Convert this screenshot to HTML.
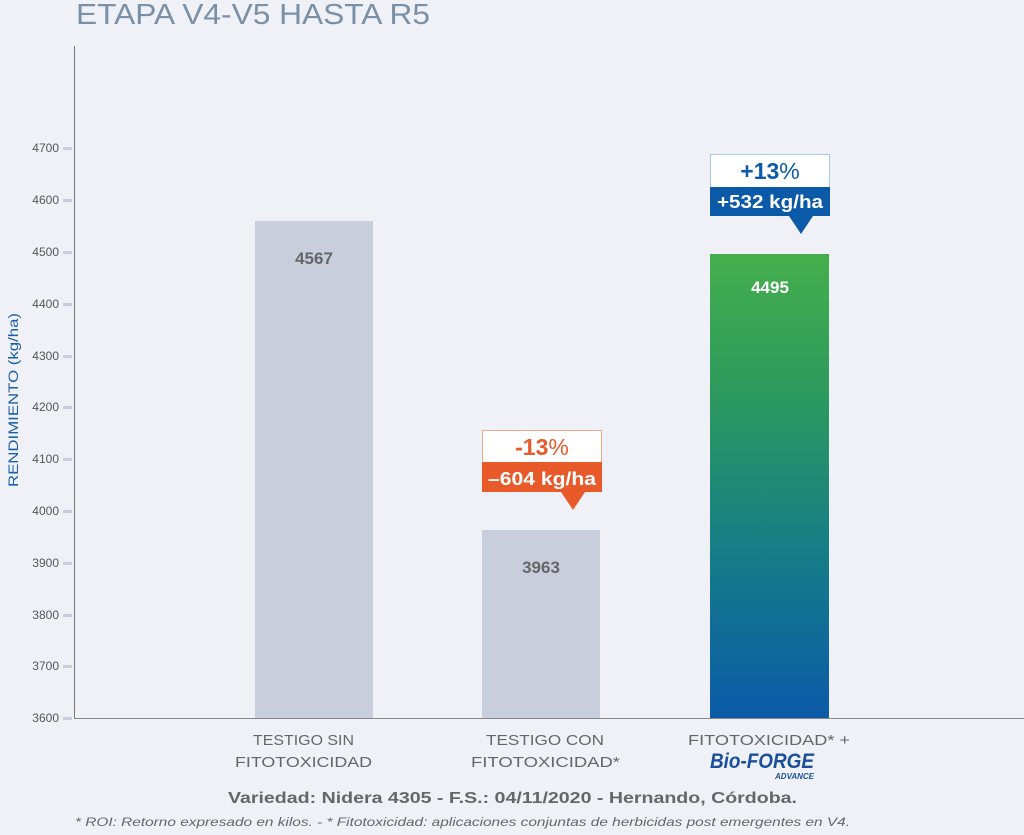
<!DOCTYPE html>
<html><head><meta charset="utf-8"><style>
body{margin:0;background:#f0f1f6;}
svg{display:block;font-family:"Liberation Sans",sans-serif;}
</style></head><body>
<svg width="1024" height="835" viewBox="0 0 1024 835" xmlns="http://www.w3.org/2000/svg">
<defs>
<linearGradient id="g" x1="0" y1="0" x2="0" y2="1">
<stop offset="0" stop-color="#45ae4c"/><stop offset="0.3" stop-color="#2d9a5e"/><stop offset="0.65" stop-color="#167c88"/><stop offset="1" stop-color="#0b5aa8"/>
</linearGradient>
</defs>
<rect width="1024" height="835" fill="#f0f1f6"/>
<text x="76" y="24" font-size="29" fill="#7890a8" textLength="354" lengthAdjust="spacingAndGlyphs">ETAPA V4-V5 HASTA R5</text>
<line x1="74.5" y1="46" x2="74.5" y2="719" stroke="#777" stroke-width="1"/>
<line x1="74" y1="718.5" x2="1024" y2="718.5" stroke="#888" stroke-width="1"/>
<g font-size="12" fill="#555" text-anchor="end">
<text x="59" y="152">4700</text><text x="59" y="204">4600</text><text x="59" y="256">4500</text>
<text x="59" y="308">4400</text><text x="59" y="360">4300</text><text x="59" y="411">4200</text>
<text x="59" y="463">4100</text><text x="59" y="515">4000</text><text x="59" y="567">3900</text>
<text x="59" y="619">3800</text><text x="59" y="670">3700</text><text x="59" y="722">3600</text>
</g>
<g fill="#c8cddd">
<rect x="63" y="147" width="9" height="3"/><rect x="63" y="199" width="9" height="3"/><rect x="63" y="251" width="9" height="3"/>
<rect x="63" y="303" width="9" height="3"/><rect x="63" y="355" width="9" height="3"/><rect x="63" y="406" width="9" height="3"/>
<rect x="63" y="458" width="9" height="3"/><rect x="63" y="510" width="9" height="3"/><rect x="63" y="562" width="9" height="3"/>
<rect x="63" y="614" width="9" height="3"/><rect x="63" y="665" width="9" height="3"/><rect x="63" y="717" width="9" height="3"/>
</g>
<text transform="translate(18,400) rotate(-90)" font-size="14" fill="#1a5fa8" text-anchor="middle" textLength="174" lengthAdjust="spacingAndGlyphs">RENDIMIENTO (kg/ha)</text>
<rect x="255" y="221" width="118" height="497" fill="#c9cedd"/>
<text x="314" y="264" font-size="17" font-weight="bold" fill="#666" text-anchor="middle">4567</text>
<rect x="482" y="530" width="118" height="188" fill="#c9cedd"/>
<text x="541" y="573" font-size="17" font-weight="bold" fill="#666" text-anchor="middle">3963</text>
<rect x="710" y="254" width="119" height="464" fill="url(#g)"/>
<text x="770" y="293" font-size="17" font-weight="bold" fill="#fff" text-anchor="middle">4495</text>
<rect x="710.5" y="154.5" width="119" height="33" fill="#fff" stroke="#a9c8e6"/>
<rect x="710" y="187" width="120" height="29" fill="#0b5aa8"/>
<polygon points="789,216 813,216 801,234" fill="#0b5aa8"/>
<text x="770" y="179" font-size="23" fill="#0b5aa8" text-anchor="middle"><tspan font-weight="bold">+13</tspan>%</text>
<text x="770" y="208" font-size="18" fill="#fff" text-anchor="middle" font-weight="bold" textLength="106" lengthAdjust="spacingAndGlyphs">+532 kg/ha</text>
<rect x="482.5" y="430.5" width="119" height="32" fill="#fff" stroke="#f0a88e"/>
<rect x="482" y="462" width="120" height="30" fill="#e85a2a"/>
<polygon points="561,492 585,492 573,510" fill="#e85a2a"/>
<text x="542" y="455" font-size="23" fill="#e85a2a" text-anchor="middle"><tspan font-weight="bold">-13</tspan>%</text>
<text x="542" y="485" font-size="18" fill="#fff" text-anchor="middle" font-weight="bold" textLength="108" lengthAdjust="spacingAndGlyphs">–604 kg/ha</text>
<g font-size="15" fill="#666">
<text x="253" y="745" textLength="101" lengthAdjust="spacingAndGlyphs">TESTIGO SIN</text>
<text x="235" y="767" textLength="137" lengthAdjust="spacingAndGlyphs">FITOTOXICIDAD</text>
<text x="486" y="745" textLength="118" lengthAdjust="spacingAndGlyphs">TESTIGO CON</text>
<text x="471" y="767" textLength="149" lengthAdjust="spacingAndGlyphs">FITOTOXICIDAD*</text>
<text x="688" y="745" textLength="162" lengthAdjust="spacingAndGlyphs">FITOTOXICIDAD* +</text>
</g>
<text x="710" y="768" font-size="21" font-weight="bold" font-style="italic" fill="#1a4f9a" textLength="104" lengthAdjust="spacingAndGlyphs">Bio-FORGE</text>
<text x="814" y="779" font-size="8" font-weight="bold" font-style="italic" fill="#1a4f9a" text-anchor="end">ADVANCE</text>
<text x="228" y="803" font-size="16" font-weight="bold" fill="#666" textLength="569" lengthAdjust="spacingAndGlyphs">Variedad: Nidera 4305 - F.S.: 04/11/2020 - Hernando, Córdoba.</text>
<text x="75" y="826" font-size="12" font-style="italic" fill="#666" textLength="775" lengthAdjust="spacingAndGlyphs">* ROI: Retorno expresado en kilos. - * Fitotoxicidad: aplicaciones conjuntas de herbicidas post emergentes en V4.</text>
</svg>
</body></html>
